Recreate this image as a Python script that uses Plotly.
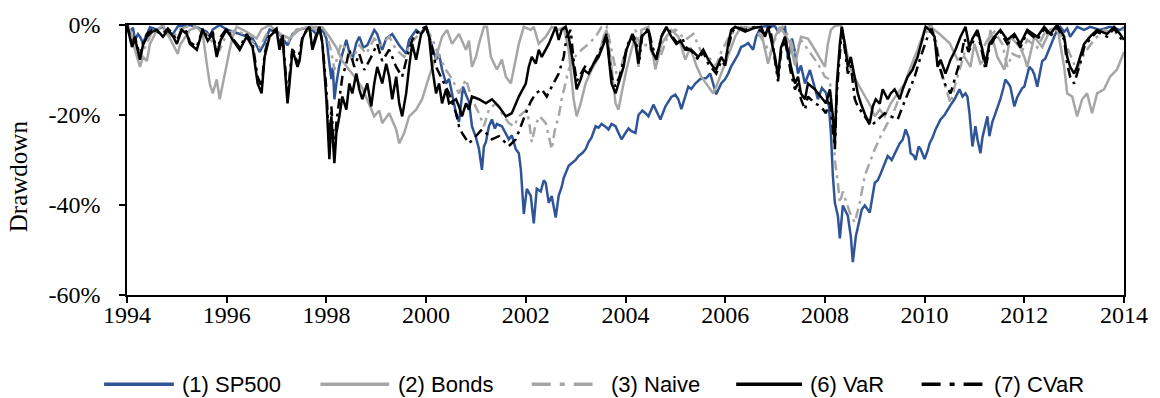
import plotly.graph_objects as go

# Drawdown paths, (decimal year, drawdown in %)
sp500 = [
    (1994.00, 0.0), (1994.06, -1.5), (1994.12, -0.6), (1994.16, -3.3), (1994.22, -2.0), (1994.26, -2.6),
    (1994.32, -4.0), (1994.40, -2.0), (1994.46, -0.5), (1994.60, -1.0), (1994.72, -0.4), (1994.80, -1.6),
    (1994.92, -2.0), (1995.02, -0.3), (1995.26, 0.0), (1995.40, -0.5), (1995.60, -1.5), (1995.66, -2.5),
    (1995.72, -1.0), (1995.86, 0.0), (1996.00, -1.0), (1996.26, -2.0), (1996.52, -3.0), (1996.62, -5.0),
    (1996.66, -6.0), (1996.76, -4.0), (1996.86, -1.0), (1997.06, -2.0), (1997.22, -4.5), (1997.32, -2.0),
    (1997.46, -1.0), (1997.66, -0.5), (1997.80, -2.0), (1997.92, -1.0), (1998.00, -3.0), (1998.06, -8.6),
    (1998.10, -12.0), (1998.13, -9.5), (1998.16, -16.5), (1998.20, -13.0), (1998.26, -9.0), (1998.32, -6.4),
    (1998.40, -3.3), (1998.46, -6.0), (1998.52, -7.7), (1998.60, -4.0), (1998.66, -2.6), (1998.74, -5.0),
    (1998.82, -4.5), (1998.96, -1.1), (1999.02, -2.0), (1999.12, -5.5), (1999.20, -3.0), (1999.32, -2.0),
    (1999.46, -4.5), (1999.60, -6.4), (1999.66, -3.3), (1999.80, -1.1), (1999.90, -2.0), (2000.00, -0.4),
    (2000.06, -2.6), (2000.12, -5.0), (2000.20, -7.7), (2000.26, -6.5), (2000.32, -9.9), (2000.40, -13.0),
    (2000.46, -12.0), (2000.52, -15.2), (2000.60, -19.6), (2000.66, -21.5), (2000.70, -17.0), (2000.74, -13.7),
    (2000.80, -15.5), (2000.86, -17.0), (2000.92, -22.5), (2001.00, -25.0), (2001.06, -27.5), (2001.12, -32.2),
    (2001.16, -27.0), (2001.20, -26.0), (2001.26, -22.5), (2001.32, -21.0), (2001.38, -23.0), (2001.42, -22.0),
    (2001.52, -22.5), (2001.60, -24.0), (2001.66, -25.4), (2001.72, -24.5), (2001.80, -27.6), (2001.86, -28.5),
    (2001.90, -32.0), (2001.96, -42.0), (2002.02, -36.4), (2002.10, -38.0), (2002.16, -44.1), (2002.22, -36.4),
    (2002.30, -37.0), (2002.36, -34.5), (2002.40, -35.1), (2002.46, -39.5), (2002.52, -38.0), (2002.60, -42.8),
    (2002.66, -37.9), (2002.72, -36.0), (2002.76, -34.0), (2002.86, -31.3), (2002.94, -30.5), (2003.00, -30.0),
    (2003.06, -29.1), (2003.14, -28.4), (2003.20, -27.6), (2003.26, -26.0), (2003.32, -25.0), (2003.40, -22.5),
    (2003.46, -22.8), (2003.52, -22.0), (2003.60, -22.6), (2003.66, -23.2), (2003.72, -22.0), (2003.80, -22.5),
    (2003.86, -24.0), (2003.92, -25.4), (2004.00, -24.0), (2004.06, -23.0), (2004.12, -23.6), (2004.20, -24.0),
    (2004.26, -20.0), (2004.34, -19.0), (2004.40, -19.6), (2004.46, -20.3), (2004.56, -17.7), (2004.62, -19.0),
    (2004.70, -21.0), (2004.80, -18.1), (2004.92, -16.0), (2005.00, -15.5), (2005.06, -16.5), (2005.12, -18.7),
    (2005.20, -15.5), (2005.26, -13.7), (2005.32, -14.2), (2005.40, -13.0), (2005.50, -12.0), (2005.62, -11.8),
    (2005.70, -10.8), (2005.76, -13.0), (2005.82, -15.4), (2005.92, -13.0), (2006.00, -12.0), (2006.06, -10.8),
    (2006.12, -9.2), (2006.20, -7.7), (2006.26, -6.5), (2006.32, -4.9), (2006.40, -4.5), (2006.46, -4.0),
    (2006.56, -5.5), (2006.62, -2.6), (2006.72, -0.4), (2006.86, -0.2), (2007.00, -0.3), (2007.06, -1.5),
    (2007.20, -0.5), (2007.26, -7.7), (2007.34, -3.0), (2007.40, -6.0), (2007.46, -10.8), (2007.52, -9.0),
    (2007.60, -13.0), (2007.70, -10.0), (2007.78, -13.5), (2007.86, -16.5), (2007.94, -14.0), (2008.02, -15.0),
    (2008.08, -18.0), (2008.12, -24.0), (2008.16, -33.5), (2008.20, -39.5), (2008.26, -42.4), (2008.30, -47.4),
    (2008.36, -40.1), (2008.40, -41.0), (2008.46, -42.4), (2008.52, -47.0), (2008.56, -52.7), (2008.62, -47.0),
    (2008.66, -45.2), (2008.74, -41.0), (2008.80, -40.1), (2008.90, -41.7), (2009.00, -35.1), (2009.06, -34.5),
    (2009.12, -33.0), (2009.20, -31.0), (2009.26, -29.1), (2009.34, -30.0), (2009.40, -28.5), (2009.50, -26.3),
    (2009.56, -25.5), (2009.62, -23.2), (2009.68, -25.0), (2009.72, -28.5), (2009.78, -29.0), (2009.82, -30.0),
    (2009.88, -27.0), (2009.92, -27.6), (2010.00, -29.8), (2010.06, -28.0), (2010.10, -26.3), (2010.16, -25.0),
    (2010.22, -23.2), (2010.32, -21.0), (2010.40, -20.0), (2010.46, -18.8), (2010.52, -17.8), (2010.60, -16.5),
    (2010.66, -15.0), (2010.70, -14.3), (2010.76, -15.9), (2010.82, -15.2), (2010.86, -16.0), (2010.90, -19.6),
    (2010.96, -27.0), (2011.02, -22.5), (2011.06, -25.4), (2011.12, -28.5), (2011.16, -25.0), (2011.20, -23.2),
    (2011.26, -20.3), (2011.30, -24.7), (2011.36, -21.5), (2011.40, -20.3), (2011.46, -18.5), (2011.52, -16.5),
    (2011.58, -14.0), (2011.62, -12.1), (2011.68, -13.0), (2011.72, -13.7), (2011.80, -18.1), (2011.86, -16.0),
    (2011.90, -15.2), (2011.96, -14.0), (2012.00, -13.7), (2012.06, -11.0), (2012.10, -9.3), (2012.16, -10.0),
    (2012.20, -11.0), (2012.26, -13.7), (2012.32, -10.0), (2012.36, -8.0), (2012.42, -7.5), (2012.46, -6.4),
    (2012.52, -4.5), (2012.60, -2.6), (2012.66, -1.1), (2012.72, -0.4), (2012.80, -1.5), (2012.86, -0.8),
    (2012.92, -2.6), (2013.00, -1.2), (2013.06, -0.4), (2013.20, -1.1), (2013.32, -0.4), (2013.52, -1.1),
    (2013.72, -0.4), (2013.92, -1.1), (2014.00, -0.5),
]

bonds = [
    (1994.00, 0.0), (1994.06, -1.0), (1994.16, -5.5), (1994.26, -9.3), (1994.32, -7.1), (1994.40, -8.0),
    (1994.46, -4.2), (1994.60, -1.1), (1994.72, 0.0), (1994.92, -4.2), (1995.02, -6.4), (1995.06, -4.5),
    (1995.26, -1.1), (1995.40, -0.5), (1995.52, -2.0), (1995.60, -8.6), (1995.66, -13.0), (1995.72, -15.2),
    (1995.80, -12.1), (1995.86, -16.5), (1995.92, -13.0), (1996.00, -8.6), (1996.06, -5.5), (1996.12, -2.6),
    (1996.20, -0.4), (1996.40, -1.5), (1996.60, -3.0), (1996.70, -1.0), (1996.86, 0.0), (1997.06, -2.0),
    (1997.26, -3.0), (1997.46, -1.0), (1997.66, -0.4), (1997.92, -0.5), (1998.06, -2.6), (1998.20, -5.0),
    (1998.32, -8.0), (1998.46, -10.0), (1998.60, -12.0), (1998.72, -14.0), (1998.82, -16.5), (1998.96, -20.3),
    (1999.06, -19.0), (1999.12, -21.8), (1999.26, -19.6), (1999.40, -23.2), (1999.46, -26.3), (1999.56, -24.0),
    (1999.66, -20.3), (1999.80, -18.8), (1999.92, -16.5), (2000.06, -11.5), (2000.20, -7.1), (2000.32, -2.6),
    (2000.42, -1.1), (2000.52, -4.2), (2000.66, -2.0), (2000.80, -5.5), (2000.86, -3.5), (2000.92, -9.3),
    (2001.00, -7.1), (2001.06, -4.2), (2001.16, -0.4), (2001.22, -0.4), (2001.30, -7.1), (2001.42, -9.9),
    (2001.52, -7.7), (2001.60, -11.5), (2001.70, -13.0), (2001.76, -9.9), (2001.86, -4.2), (2001.96, -0.4),
    (2002.10, -1.1), (2002.16, -0.4), (2002.26, -4.2), (2002.40, -2.6), (2002.52, -0.4), (2002.66, -1.1),
    (2002.76, -0.5), (2002.86, -5.5), (2002.96, -16.5), (2003.02, -20.3), (2003.10, -17.4), (2003.20, -13.0),
    (2003.32, -9.9), (2003.46, -7.1), (2003.56, -2.6), (2003.62, -1.1), (2003.72, -9.3), (2003.80, -17.4),
    (2003.86, -18.8), (2003.92, -15.2), (2004.02, -9.9), (2004.12, -5.5), (2004.20, -2.6), (2004.26, -9.3),
    (2004.32, -1.1), (2004.46, -0.4), (2004.60, -9.9), (2004.72, -4.2), (2004.92, -1.1), (2005.06, -2.6),
    (2005.20, -7.7), (2005.30, -5.0), (2005.42, -9.0), (2005.52, -11.5), (2005.66, -13.7), (2005.76, -15.2),
    (2005.82, -13.7), (2005.92, -10.8), (2006.06, -6.4), (2006.20, -2.6), (2006.32, -0.4), (2006.50, -0.6),
    (2006.70, -0.4), (2006.80, -6.0), (2006.86, -8.6), (2007.00, -2.6), (2007.10, -0.4), (2007.30, -4.0),
    (2007.40, -9.0), (2007.52, -2.6), (2007.66, -3.0), (2007.80, -5.5), (2008.00, -9.3), (2008.06, -4.2),
    (2008.12, -1.1), (2008.20, -0.2), (2008.32, 0.0), (2008.40, -4.2), (2008.52, -9.9), (2008.66, -13.0),
    (2008.80, -15.9), (2008.92, -18.1), (2009.00, -20.3), (2009.10, -18.8), (2009.20, -20.3), (2009.32, -17.4),
    (2009.46, -15.2), (2009.60, -13.0), (2009.72, -9.3), (2009.86, -5.5), (2010.00, -1.1), (2010.10, -0.2),
    (2010.30, -2.0), (2010.50, -4.0), (2010.66, -7.7), (2010.80, -7.1), (2010.92, -9.3), (2011.00, -4.2),
    (2011.12, -8.6), (2011.26, -7.0), (2011.32, -1.1), (2011.46, -7.1), (2011.60, -9.9), (2011.72, -2.6),
    (2011.92, -5.0), (2012.00, -7.1), (2012.06, -9.3), (2012.20, -2.6), (2012.36, -4.9), (2012.52, -1.1),
    (2012.66, -0.4), (2012.80, -9.3), (2012.86, -15.2), (2012.96, -15.9), (2013.06, -20.3), (2013.16, -16.5),
    (2013.26, -15.2), (2013.36, -19.6), (2013.46, -15.2), (2013.60, -14.3), (2013.72, -11.5), (2013.86, -9.9),
    (2013.96, -7.1), (2014.00, -6.0),
]

naive = [
    (1994.00, 0.0), (1994.10, -2.6), (1994.20, -5.0), (1994.30, -6.4), (1994.40, -4.0), (1994.50, -1.5),
    (1994.70, -1.0), (1994.90, -3.0), (1995.05, -1.0), (1995.30, 0.0), (1995.60, -2.0), (1995.72, -4.0),
    (1995.86, -5.5), (1996.00, -2.0), (1996.20, -1.0), (1996.40, -2.6), (1996.66, -5.0), (1996.80, -2.0),
    (1997.00, -1.0), (1997.22, -4.0), (1997.40, -1.0), (1997.66, -0.5), (1997.90, -1.5), (1998.00, -2.0),
    (1998.10, -6.0), (1998.16, -10.0), (1998.22, -7.0), (1998.30, -4.0), (1998.40, -5.5), (1998.52, -7.7),
    (1998.66, -4.5), (1998.80, -6.4), (1998.96, -3.0), (1999.10, -4.5), (1999.26, -2.6), (1999.40, -5.5),
    (1999.56, -7.1), (1999.70, -4.0), (1999.86, -2.0), (2000.00, -0.5), (2000.12, -3.0), (2000.26, -7.0),
    (2000.40, -10.0), (2000.52, -12.0), (2000.66, -15.2), (2000.80, -12.1), (2000.92, -16.5), (2001.06, -19.6),
    (2001.16, -22.5), (2001.26, -18.8), (2001.40, -17.4), (2001.52, -19.6), (2001.66, -21.8), (2001.76, -22.5),
    (2001.86, -20.3), (2002.00, -19.0), (2002.06, -21.0), (2002.12, -26.0), (2002.20, -22.0), (2002.28, -20.3),
    (2002.40, -21.8), (2002.52, -27.6), (2002.58, -23.5), (2002.66, -20.3), (2002.72, -16.5), (2002.80, -13.0),
    (2002.86, -9.9), (2002.98, -7.1), (2003.12, -5.5), (2003.26, -4.2), (2003.40, -2.6), (2003.52, -0.4),
    (2003.62, -0.2), (2003.72, -5.5), (2003.86, -13.0), (2003.92, -9.0), (2004.02, -5.0), (2004.12, -2.6),
    (2004.20, -1.1), (2004.30, -5.0), (2004.46, -4.2), (2004.60, -8.0), (2004.72, -6.4), (2004.86, -2.0),
    (2005.00, -1.0), (2005.20, -3.3), (2005.36, -2.0), (2005.50, -5.5), (2005.66, -7.1), (2005.82, -9.0),
    (2005.92, -6.0), (2006.06, -3.0), (2006.20, -1.1), (2006.40, -0.4), (2006.60, -0.8), (2006.80, -4.2),
    (2006.90, -6.4), (2007.02, -2.6), (2007.15, -0.4), (2007.30, -3.0), (2007.40, -6.4), (2007.52, -3.3),
    (2007.66, -5.5), (2007.86, -8.6), (2008.00, -11.5), (2008.10, -12.1), (2008.16, -22.5), (2008.20, -30.0),
    (2008.26, -35.1), (2008.30, -39.5), (2008.36, -37.0), (2008.50, -41.7), (2008.60, -43.9), (2008.70, -39.5),
    (2008.80, -33.5), (2008.90, -30.6), (2009.00, -27.6), (2009.12, -24.7), (2009.26, -21.8), (2009.40, -18.8),
    (2009.52, -15.2), (2009.66, -11.5), (2009.80, -8.6), (2009.92, -4.2), (2010.06, -1.1), (2010.14, -0.3),
    (2010.22, -3.0), (2010.32, -9.3), (2010.40, -13.0), (2010.52, -17.4), (2010.62, -13.0), (2010.72, -9.3),
    (2010.82, -5.5), (2010.96, -3.3), (2011.06, -1.1), (2011.16, -5.5), (2011.26, -3.3), (2011.40, -1.5),
    (2011.56, -4.2), (2011.66, -9.3), (2011.76, -6.4), (2011.90, -7.1), (2012.06, -3.3), (2012.26, -5.0),
    (2012.40, -2.0), (2012.60, -0.5), (2012.80, -3.3), (2012.96, -7.7), (2013.06, -10.0), (2013.20, -6.4),
    (2013.40, -3.3), (2013.60, -1.1), (2013.80, -2.0), (2014.00, -1.0),
]

var_port = [
    (1994.00, 0.0), (1994.04, -2.0), (1994.10, -4.9), (1994.16, -3.0), (1994.22, -5.5), (1994.26, -7.7),
    (1994.32, -4.5), (1994.40, -2.6), (1994.50, -1.5), (1994.60, -1.1), (1994.72, -2.6), (1994.82, -1.1),
    (1994.92, -2.5), (1995.00, -4.2), (1995.10, -1.1), (1995.20, -2.0), (1995.26, -4.2), (1995.40, -5.5),
    (1995.52, -1.1), (1995.62, -3.5), (1995.72, -2.0), (1995.80, -7.1), (1995.88, -3.3), (1996.00, -1.1),
    (1996.12, -3.3), (1996.26, -5.5), (1996.40, -2.6), (1996.52, -4.9), (1996.62, -13.0), (1996.70, -15.2),
    (1996.76, -7.1), (1996.86, -2.6), (1997.00, -1.1), (1997.06, -5.5), (1997.12, -2.6), (1997.22, -17.4),
    (1997.26, -13.0), (1997.32, -5.5), (1997.42, -9.3), (1997.46, -8.0), (1997.52, -3.0), (1997.60, -1.1),
    (1997.66, -0.4), (1997.72, -5.5), (1997.80, -2.6), (1997.86, -0.4), (1997.92, -4.2), (1998.00, -16.5),
    (1998.06, -29.8), (1998.10, -20.3), (1998.16, -30.7), (1998.20, -24.0), (1998.26, -20.3), (1998.32, -15.9),
    (1998.40, -18.8), (1998.46, -13.0), (1998.52, -15.2), (1998.60, -10.8), (1998.66, -14.3), (1998.72, -16.5),
    (1998.82, -13.0), (1998.90, -18.1), (1998.96, -13.0), (1999.02, -9.3), (1999.12, -13.0), (1999.20, -8.6),
    (1999.26, -11.5), (1999.32, -16.5), (1999.40, -11.5), (1999.46, -17.4), (1999.52, -20.3), (1999.60, -15.2),
    (1999.66, -9.3), (1999.72, -4.2), (1999.80, -7.7), (1999.90, -2.0), (2000.00, -0.4), (2000.06, -2.6),
    (2000.12, -9.3), (2000.20, -15.2), (2000.26, -13.0), (2000.32, -17.4), (2000.40, -14.3), (2000.46, -17.4),
    (2000.60, -16.5), (2000.66, -18.1), (2000.72, -20.3), (2000.80, -17.4), (2000.86, -18.8), (2000.92, -15.9),
    (2001.06, -16.5), (2001.20, -17.4), (2001.32, -16.5), (2001.46, -18.1), (2001.60, -20.3), (2001.72, -19.6),
    (2001.86, -15.9), (2002.00, -13.0), (2002.06, -9.3), (2002.12, -7.1), (2002.20, -8.6), (2002.26, -5.5),
    (2002.32, -7.1), (2002.46, -4.2), (2002.52, -2.6), (2002.60, -0.4), (2002.66, -3.3), (2002.72, -1.1),
    (2002.80, -0.4), (2002.86, -2.6), (2002.96, -9.3), (2003.02, -14.3), (2003.10, -12.1), (2003.16, -9.9),
    (2003.26, -10.8), (2003.36, -8.6), (2003.46, -7.1), (2003.56, -4.2), (2003.62, -2.6), (2003.72, -13.0),
    (2003.80, -15.2), (2003.86, -13.0), (2003.96, -9.3), (2004.02, -5.5), (2004.12, -2.6), (2004.20, -4.2),
    (2004.26, -8.6), (2004.32, -2.6), (2004.46, -1.1), (2004.52, -5.5), (2004.62, -7.7), (2004.72, -2.6),
    (2004.82, -0.4), (2004.92, -2.6), (2005.02, -4.2), (2005.10, -3.5), (2005.20, -5.5), (2005.32, -5.5),
    (2005.46, -7.1), (2005.56, -5.5), (2005.66, -7.7), (2005.76, -9.3), (2005.82, -9.9), (2005.92, -7.1),
    (2006.00, -8.6), (2006.06, -4.2), (2006.12, -1.1), (2006.20, -0.4), (2006.40, -1.5), (2006.60, -0.6),
    (2006.72, -0.4), (2006.80, -2.6), (2006.86, -0.4), (2007.00, -7.1), (2007.06, -11.5), (2007.12, -5.0),
    (2007.20, -2.6), (2007.32, -9.3), (2007.40, -13.0), (2007.46, -11.5), (2007.52, -15.2), (2007.60, -16.5),
    (2007.66, -13.0), (2007.80, -14.3), (2007.92, -15.9), (2008.02, -17.4), (2008.10, -14.3), (2008.16, -20.3),
    (2008.20, -26.3), (2008.24, -13.0), (2008.30, -4.2), (2008.34, -0.4), (2008.40, -4.2), (2008.46, -9.3),
    (2008.52, -7.1), (2008.60, -12.1), (2008.66, -15.2), (2008.72, -17.4), (2008.82, -20.3), (2008.90, -21.8),
    (2008.96, -18.1), (2009.02, -16.5), (2009.10, -17.5), (2009.16, -14.3), (2009.26, -16.5), (2009.32, -15.2),
    (2009.40, -14.3), (2009.50, -16.5), (2009.56, -14.3), (2009.66, -11.5), (2009.76, -9.9), (2009.86, -7.1),
    (2009.96, -2.6), (2010.02, -0.4), (2010.10, -1.1), (2010.20, -2.6), (2010.26, -9.3), (2010.32, -7.7),
    (2010.42, -10.8), (2010.52, -7.7), (2010.62, -5.5), (2010.72, -2.6), (2010.82, -0.4), (2010.90, -5.0),
    (2010.96, -3.0), (2011.06, -1.1), (2011.16, -5.5), (2011.22, -8.6), (2011.30, -4.2), (2011.40, -2.6),
    (2011.52, -1.1), (2011.66, -3.3), (2011.80, -2.0), (2011.92, -4.2), (2012.06, -1.1), (2012.26, -2.6),
    (2012.40, -0.4), (2012.52, -2.0), (2012.66, 0.0), (2012.80, -2.6), (2012.86, -7.1), (2012.92, -9.3),
    (2013.00, -10.8), (2013.06, -9.3), (2013.12, -7.1), (2013.20, -4.2), (2013.32, -2.6), (2013.46, -1.1),
    (2013.66, -2.0), (2013.80, -0.4), (2013.92, -2.0), (2014.00, -3.3),
]

cvar_port = [
    (1994.00, 0.0), (1994.04, -1.5), (1994.10, -4.2), (1994.16, -2.6), (1994.22, -5.0), (1994.26, -7.1),
    (1994.32, -4.0), (1994.40, -2.0), (1994.50, -1.1), (1994.60, -1.5), (1994.72, -2.0), (1994.82, -0.8),
    (1994.92, -2.0), (1995.00, -3.5), (1995.10, -0.8), (1995.20, -1.5), (1995.26, -3.8), (1995.40, -4.9),
    (1995.52, -0.8), (1995.62, -3.0), (1995.72, -1.5), (1995.80, -6.4), (1995.88, -2.6), (1996.00, -0.8),
    (1996.12, -3.0), (1996.26, -5.0), (1996.40, -2.0), (1996.52, -4.2), (1996.62, -11.5), (1996.70, -13.7),
    (1996.76, -6.4), (1996.86, -2.0), (1997.00, -0.8), (1997.06, -4.9), (1997.12, -2.0), (1997.22, -15.9),
    (1997.26, -11.5), (1997.32, -4.9), (1997.42, -8.6), (1997.52, -2.6), (1997.66, -0.4), (1997.72, -4.9),
    (1997.80, -2.0), (1997.86, -0.4), (1997.92, -3.8), (1998.00, -14.3), (1998.06, -27.6), (1998.10, -18.1),
    (1998.16, -28.5), (1998.20, -21.8), (1998.26, -16.5), (1998.32, -11.5), (1998.40, -8.6), (1998.46, -5.5),
    (1998.56, -9.3), (1998.66, -6.4), (1998.76, -10.0), (1998.90, -7.1), (1999.02, -4.2), (1999.12, -8.0),
    (1999.26, -5.5), (1999.40, -9.3), (1999.52, -11.5), (1999.62, -7.0), (1999.72, -3.3), (1999.86, -1.1),
    (2000.00, -0.4), (2000.10, -4.0), (2000.20, -9.3), (2000.32, -12.0), (2000.46, -15.2), (2000.60, -19.6),
    (2000.66, -22.5), (2000.72, -24.0), (2000.86, -26.3), (2001.00, -24.7), (2001.12, -23.2), (2001.20, -24.0),
    (2001.32, -25.4), (2001.46, -24.7), (2001.66, -26.9), (2001.80, -25.4), (2001.92, -21.8), (2002.00, -19.6),
    (2002.10, -17.0), (2002.20, -15.2), (2002.32, -14.3), (2002.42, -15.9), (2002.52, -13.7), (2002.66, -10.8),
    (2002.76, -7.1), (2002.82, -2.6), (2002.90, -1.1), (2002.96, -8.0), (2003.02, -12.5), (2003.10, -11.0),
    (2003.20, -9.0), (2003.30, -9.9), (2003.40, -7.7), (2003.52, -5.0), (2003.62, -2.0), (2003.72, -11.5),
    (2003.80, -13.7), (2003.88, -11.5), (2003.96, -8.0), (2004.04, -4.5), (2004.14, -2.0), (2004.22, -4.0),
    (2004.28, -7.7), (2004.34, -2.0), (2004.46, -0.8), (2004.54, -4.9), (2004.62, -7.1), (2004.74, -2.0),
    (2004.84, -0.4), (2004.94, -2.6), (2005.04, -4.0), (2005.14, -3.0), (2005.22, -5.0), (2005.34, -6.0),
    (2005.46, -7.7), (2005.56, -6.0), (2005.66, -8.6), (2005.76, -10.0), (2005.82, -10.8), (2005.92, -8.0),
    (2006.00, -9.0), (2006.06, -5.0), (2006.14, -1.5), (2006.22, -0.4), (2006.40, -1.1), (2006.60, -0.4),
    (2006.80, -2.0), (2006.90, -0.4), (2007.00, -8.0), (2007.06, -12.5), (2007.12, -6.0), (2007.20, -3.3),
    (2007.32, -10.8), (2007.40, -14.3), (2007.46, -13.0), (2007.52, -16.5), (2007.60, -18.8), (2007.66, -15.9),
    (2007.80, -17.4), (2007.92, -18.1), (2008.02, -19.6), (2008.10, -16.5), (2008.16, -23.2), (2008.20, -27.6),
    (2008.24, -15.0), (2008.30, -5.0), (2008.34, -0.8), (2008.40, -5.5), (2008.46, -10.8), (2008.52, -9.0),
    (2008.60, -16.5), (2008.66, -18.1), (2008.80, -20.3), (2008.92, -22.5), (2009.06, -21.0), (2009.20, -19.6),
    (2009.32, -20.3), (2009.46, -21.0), (2009.56, -18.1), (2009.66, -15.2), (2009.80, -11.5), (2009.92, -7.1),
    (2010.06, -2.6), (2010.14, -0.8), (2010.22, -4.0), (2010.30, -9.3), (2010.40, -13.0), (2010.52, -15.2),
    (2010.62, -11.5), (2010.72, -7.7), (2010.80, -3.0), (2010.88, -6.0), (2010.96, -4.0), (2011.06, -1.5),
    (2011.16, -6.4), (2011.22, -9.9), (2011.30, -5.0), (2011.40, -3.0), (2011.52, -1.5), (2011.66, -4.2),
    (2011.80, -2.6), (2011.92, -5.0), (2012.06, -1.5), (2012.26, -3.3), (2012.40, -0.8), (2012.52, -2.6),
    (2012.66, -0.4), (2012.80, -3.3), (2012.86, -8.6), (2012.92, -11.5), (2013.00, -13.0), (2013.06, -11.0),
    (2013.12, -8.6), (2013.20, -5.0), (2013.32, -3.0), (2013.46, -1.5), (2013.66, -2.6), (2013.80, -0.8),
    (2013.92, -2.6), (2014.00, -4.0),
]

series_names = ["(1) SP500", "(2) Bonds", "(3) Naive", "(6) VaR", "(7) CVaR"]
series_data = [sp500, bonds, naive, var_port, cvar_port]

year_ticks = list(range(1994, 2015, 2))
pct_ticks = [-60, -40, -20, 0]

# line styles: colour, dash pattern in the plot, dash pattern in the key
line_styles = [
    ("#2F5597", "solid", "solid"),
    ("#A6A6A6", "solid", "solid"),
    ("#A6A6A6", "10px,5px,3px,5px", "19px,9px,5px,9px"),
    ("#000000", "solid", "solid"),
    ("#000000", "10px,5px,3px,5px", "19px,9px,5px,9px"),
]

# canvas geometry (pixels)
W, H = 1160, 398
L, R, T, B = 127, 33, 23, 103
PW, PH = W - L - R, H - T - B

fig = go.Figure()
for name, pts, (color, dash, _) in zip(series_names, series_data, line_styles):
    fig.add_trace(go.Scatter(
        x=[p[0] for p in pts], y=[p[1] for p in pts],
        mode="lines", name=name,
        line=dict(color=color, width=2.5, dash=dash),
        showlegend=False,
    ))

serif = "Liberation Serif, Times New Roman, serif"
sans = "Liberation Sans, Arial, sans-serif"

fig.update_layout(
    width=W, height=H,
    margin=dict(l=L, r=R, t=T, b=B, pad=0),
    paper_bgcolor="white", plot_bgcolor="white",
    font=dict(family=serif, size=24, color="black"),
    xaxis=dict(
        range=[1994, 2014], tickmode="array", tickvals=year_ticks,
        ticktext=[str(y) for y in year_ticks],
        showgrid=False, zeroline=False,
        showline=True, linecolor="black", linewidth=1.5, mirror=True,
        ticks="outside", ticklen=6, tickwidth=1.5, tickcolor="black",
        ticklabelstandoff=-9,
        tickfont=dict(family=serif, size=24, color="black"),
    ),
    yaxis=dict(
        range=[-60, 0], tickmode="array", tickvals=pct_ticks,
        ticktext=[f"{v}%" for v in pct_ticks],
        showgrid=False, zeroline=False,
        showline=True, linecolor="black", linewidth=1.5, mirror=True,
        ticks="outside", ticklen=6, tickwidth=1.5, tickcolor="black",
        ticklabelstandoff=14,
        tickfont=dict(family=serif, size=24, color="black"),
    ),
)


def px_x(px):
    return (px - L) / PW


def px_y(py):
    return (H - B - py) / PH


fig.add_annotation(
    text="Drawdown", xref="paper", yref="paper",
    x=px_x(19), y=px_y(175), xanchor="center", yanchor="middle",
    textangle=-90, showarrow=False,
    font=dict(family=serif, size=25, color="black"),
)

# key below the plot
key_y = 385
key_samples = [(104, 174), (321, 390), (533, 594), (738, 804), (924, 985)]
key_text_x = [180, 397, 610, 810, 995]
for name, (x0, x1), tx, (color, _, kdash) in zip(series_names, key_samples, key_text_x, line_styles):
    fig.add_shape(
        type="line", xref="paper", yref="paper",
        x0=px_x(x0), x1=px_x(x1), y0=px_y(key_y), y1=px_y(key_y),
        line=dict(color=color, width=3.5, dash=kdash),
    )
    fig.add_annotation(
        text=name, xref="paper", yref="paper",
        x=px_x(tx), y=px_y(key_y), xanchor="left", yanchor="middle",
        showarrow=False, font=dict(family=sans, size=22, color="black"),
    )

fig.write_html("out.html")
